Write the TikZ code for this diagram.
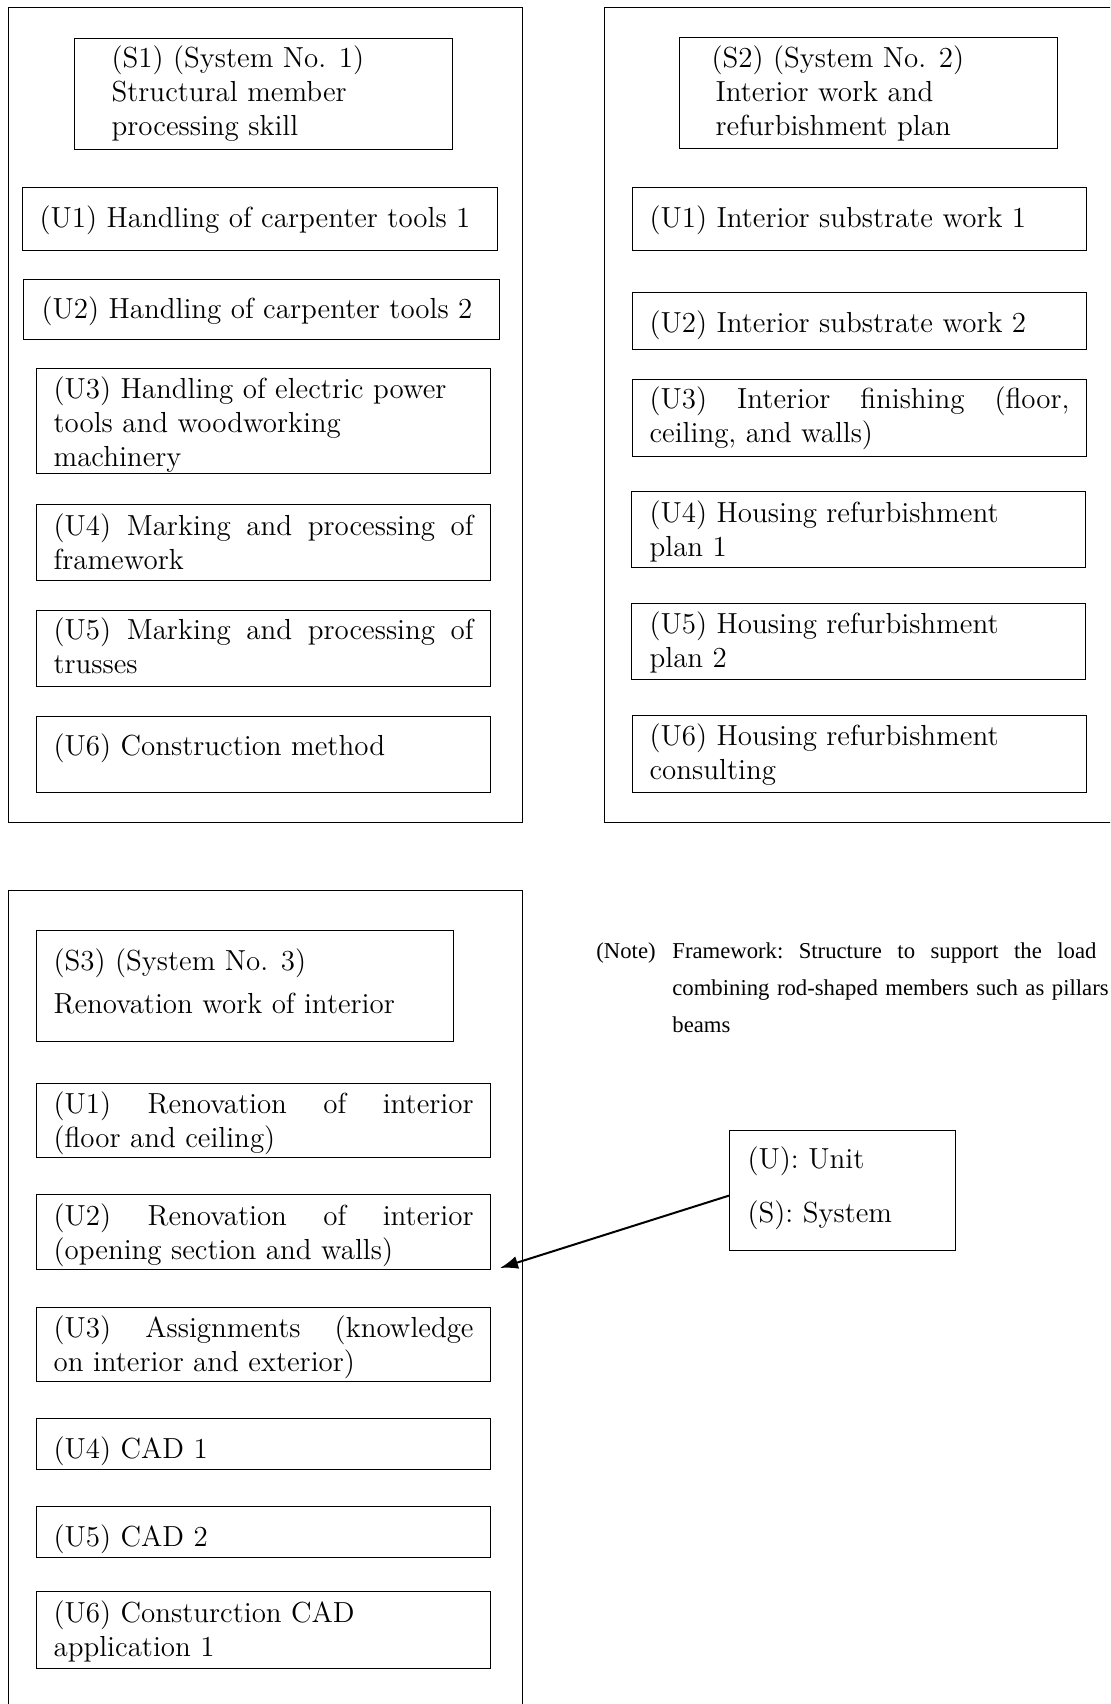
\documentclass[tikz,border=0pt]{standalone}
\usepackage{fontspec}
\newfontfamily\notefont{Liberation Serif}
\usetikzlibrary{arrows.meta}
\tikzset{
  bx/.code n args={4}{%
    \pgfmathsetmacro\bxT{(#1-2*#3)*0.5}%
    \pgfmathsetmacro\bxP{#3*0.5}%
    \pgfmathsetmacro\bxH{#4*0.5}%
    \pgfmathsetmacro\bxD{(#2-#4)*0.5}%
    \edef\bxtmp{\noexpand\tikzset{text width=\bxT pt, inner xsep=\bxP pt, inner ysep=0pt, text height=\bxH pt, text depth=\bxD pt}}%
    \bxtmp},
  fr/.code 2 args={%
    \pgfmathsetmacro\frW{#1*0.5}\pgfmathsetmacro\frH{#2*0.5}%
    \edef\frtmp{\noexpand\tikzset{minimum width=\frW pt, minimum height=\frH pt}}\frtmp},
  frame/.style={draw, line width=0.6pt, anchor=north west, inner sep=0pt},
  ubox/.style={draw, line width=0.6pt, anchor=north west, align=justify, font=\fontsize{14.5}{17}\selectfont},
  notetxt/.style={anchor=base west, inner sep=0pt, text width=260pt, align=left, font=\notefont\fontsize{11.35}{18.5}\selectfont},
  arr/.style={line width=1pt, -{Latex[length=9pt,width=6.5pt]}}
}
\begin{document}
\begin{tikzpicture}[x=0.5pt,y=-0.5pt]
\useasboundingbox (0,0) rectangle (1110,1704);
\clip (0,0) rectangle (1110,1704);
% outer frames
\node[frame, fr={514}{815}] (f1) at (8,7) {};
\node[frame, fr={540}{815}] (f2) at (604,7) {};
\node[frame, fr={514}{840}] (f3) at (8,890) {};
% system 1
\node[ubox, bx={378}{111}{37}{29}] (s1) at (74,38) {(S1) (System No. 1)\\Structural member\\processing skill};
\node[ubox, bx={475}{63}{17}{40}] (a1) at (22,187) {\mbox{(U1) Handling of carpenter tools 1}};
\node[ubox, bx={476}{60}{18}{39}] (a2) at (23,279) {\mbox{(U2) Handling of carpenter tools 2}};
\node[ubox, bx={454}{105}{17}{30}] (a3) at (36,368) {(U3) Handling of electric power\\tools and woodworking\\machinery};
\node[ubox, bx={454}{76}{17}{31}] (a4) at (36,504) {(U4) Marking and processing of\linebreak framework};
\node[ubox, bx={454}{76}{17}{29}] (a5) at (36,610) {(U5) Marking and processing of\linebreak trusses};
\node[ubox, bx={454}{76}{17}{39}] (a6) at (36,716) {(U6) Construction method};
% system 2
\node[ubox, bx={378}{111}{36}{30}] (s2) at (679,37) {\hspace*{-2pt}(S2) (System No. 2)\\Interior work and\\refurbishment plan};
\node[ubox, bx={454}{63}{17}{40}] (b1) at (632,187) {\mbox{(U1) Interior substrate work 1}};
\node[ubox, bx={454}{57}{17}{40}] (b2) at (632,292) {\mbox{(U2) Interior substrate work 2}};
\node[ubox, bx={454}{77}{17}{29}] (b3) at (632,379) {(U3) Interior finishing (floor,\linebreak ceiling, and walls)};
\node[ubox, bx={454}{76}{18}{31}] (b4) at (631,491) {(U4) Housing refurbishment\\plan 1};
\node[ubox, bx={454}{76}{18}{30}] (b5) at (631,603) {(U5) Housing refurbishment\\plan 2};
\node[ubox, bx={454}{77}{17}{30}] (b6) at (632,715) {(U6) Housing refurbishment\\consulting};
% system 3
\node[ubox, bx={417}{111}{17}{40}, font=\fontsize{14.5}{21.5}\selectfont] (s3) at (36,930) {(S3) (System No. 3)\\Renovation work of interior};
\node[ubox, bx={454}{74}{17}{30}] (c1) at (36,1083) {(U1) Renovation of interior\linebreak (floor and ceiling)};
\node[ubox, bx={454}{75}{17}{31}] (c2) at (36,1194) {(U2) Renovation of interior\linebreak (opening section and walls)};
\node[ubox, bx={454}{74}{17}{30}] (c3) at (36,1307) {(U3) Assignments (knowledge\linebreak on interior and exterior)};
\node[ubox, bx={454}{51}{17}{40}] (c4) at (36,1418) {(U4) CAD 1};
\node[ubox, bx={454}{51}{17}{40}] (c5) at (36,1506) {(U5) CAD 2};
\node[ubox, bx={454}{77}{17}{31}] (c6) at (36,1591) {(U6) Consturction CAD\\application 1};
% note
\node[notetxt] (nt) at (596,958) {\makebox[38pt][l]{(Note)}\makebox[212pt][l]{Framework:\hfill Structure\hfill to\hfill support\hfill the\hfill load}\\\hspace*{38pt}combining rod-shaped members such as pillars\\\hspace*{38pt}beams};
% legend
\node[ubox, bx={226}{120}{18}{38}, font=\fontsize{14.5}{27}\selectfont] (lg) at (729,1130) {(U): Unit\\(S): System};
\coordinate (tip) at (500,1268);
\draw[arr] ([yshift=-2.5pt]lg.west) -- (tip);
\end{tikzpicture}
\end{document}
